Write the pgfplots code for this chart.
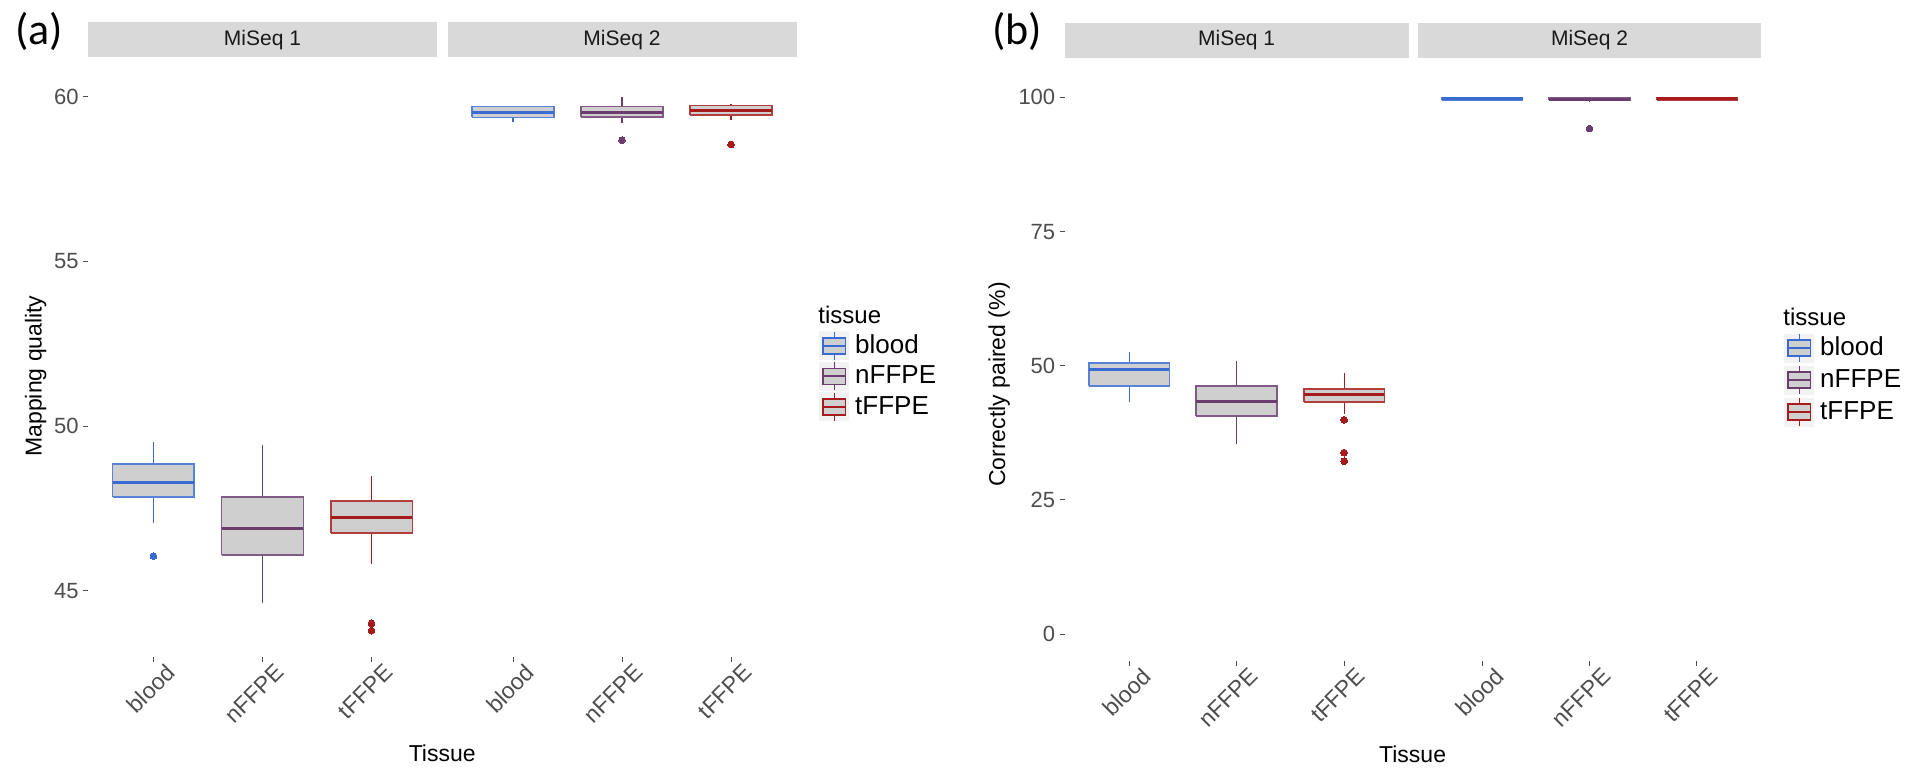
\documentclass[border=0pt]{standalone}
\usepackage{pgfplots}
\pgfplotsset{compat=1.18}
\usepackage{fontspec}
\setmainfont{Liberation Sans}
\newfontfamily\calib{Carlito}
\definecolor{bloodc}{HTML}{3A6BD2}
\definecolor{nffpec}{HTML}{6B3D6F}
\definecolor{tffpec}{HTML}{A61C1C}
\definecolor{boxfill}{HTML}{CFCFCF}
\definecolor{stripc}{HTML}{D9D9D9}
\definecolor{tickc}{HTML}{4D4D4D}
\definecolor{keybg}{HTML}{F2F2F2}

\pgfplotsset{
  facet/.style={
    scale only axis,
    axis lines*=left,
    axis line style={draw=none},
    xmin=0.4, xmax=3.6,
    xtick={1,2,3},
    xticklabels={blood,nFFPE,tFFPE},
    tick align=outside,
    major tick length=2.5pt,
    every tick/.style={tickc, line width=0.4pt},
    tick label style={font=\fontsize{11}{13}\selectfont, text=tickc},
    /pgf/number format/assume math mode=true,
    xticklabel style={rotate=45, anchor=north east, inner sep=0pt, xshift=4pt, yshift=-4pt,
      font=\fontsize{11.5}{13}\selectfont},
    yticklabel style={inner sep=2pt},
    title style={at={(0.5,1)}, anchor=south, yshift=0.3pt, fill=stripc, inner sep=0pt,
      minimum height=17.5pt, text=black!90, font=\fontsize{10.5}{12}\selectfont},
    clip=false,
  },
  keyimg/.style={legend image code/.code={
    \fill[keybg] (0pt,-7pt) rectangle (14.5pt,7pt);
    \draw[#1, line width=0.5pt] (7.25pt,-7pt) -- (7.25pt,7pt);
    \filldraw[fill=boxfill, draw=#1, line width=0.8pt] (1.6pt,-4pt) rectangle (12.9pt,4pt);
    \draw[#1, line width=0.9pt] (1.6pt,0pt) -- (12.9pt,0pt);
  }},
  leg/.style={legend cell align=left,
    legend style={draw=none, fill=none, inner sep=0pt, row sep=#1, column sep=3pt,
      font=\fontsize{13}{15}\selectfont, nodes={inner sep=0pt}, anchor=north west}},
  outl/.style={only marks, mark=*, mark size=1.7pt, forget plot,
    mark options={fill=#1, draw=#1, line width=0pt, solid}},
}

% box: {x left}{x centre}{x right}{colour}{lower whisker}{lower quartile}{median}{upper quartile}{upper whisker}
\newcommand\bxp[9]{%
  \addplot[#4, line width=0.6pt, forget plot] coordinates {(#2,#5) (#2,#6)};
  \addplot[#4, line width=0.6pt, forget plot] coordinates {(#2,#8) (#2,#9)};
  \addplot[draw=#4!85!white, fill=boxfill, line width=0.85pt, forget plot]
    coordinates {(#1,#6) (#3,#6) (#3,#8) (#1,#8) (#1,#6)};
  \addplot[#4, line width=1.5pt, forget plot] coordinates {(#1,#7) (#3,#7)};
}

\begin{document}
\begin{tikzpicture}
\useasboundingbox (0,0) rectangle (965pt,-385pt);

% ---------------- panel (a) MiSeq 1
\begin{axis}[facet, at={(44pt,-35.15pt)}, anchor=north west,
  width=174.5pt, height=293.5pt, ymin=42.98, ymax=60.8, ytick={45,50,55,60},
  title={MiSeq 1}, title style={minimum width=174.5pt}]
\bxp{0.625}{1}{1.375}{bloodc}{47.06}{47.85}{48.30}{48.85}{49.52}
\bxp{1.625}{2}{2.375}{nffpec}{44.64}{46.08}{46.90}{47.84}{49.42}
\bxp{2.625}{3}{3.375}{tffpec}{45.80}{46.76}{47.23}{47.73}{48.48}
\addplot[outl=bloodc] coordinates {(1,46.05)};
\addplot[outl=tffpec] coordinates {(3,44.01) (3,43.79)};
\end{axis}

% ---------------- panel (a) MiSeq 2
\begin{axis}[facet, leg=0.75pt, at={(223.75pt,-35.15pt)}, anchor=north west,
  width=174.5pt, height=293.5pt, ymin=42.98, ymax=60.8, ytick=\empty,
  title={MiSeq 2}, title style={minimum width=174.5pt},
  legend style={at={(1.0645,0.5559)}}]
\bxp{0.625}{1}{1.375}{bloodc}{59.22}{59.37}{59.53}{59.70}{59.73}
\bxp{1.625}{2}{2.375}{nffpec}{59.19}{59.39}{59.53}{59.70}{59.99}
\bxp{2.625}{3}{3.375}{tffpec}{59.29}{59.44}{59.59}{59.73}{59.78}
\addplot[outl=nffpec] coordinates {(2,58.68)};
\addplot[outl=tffpec] coordinates {(3,58.55)};
\addlegendimage{keyimg=bloodc}\addlegendentry{blood}
\addlegendimage{keyimg=nffpec}\addlegendentry{nFFPE}
\addlegendimage{keyimg=tffpec}\addlegendentry{tFFPE}
\end{axis}

% ---------------- panel (b) MiSeq 1
\begin{axis}[facet, at={(532.3pt,-35.3pt)}, anchor=north west,
  width=172pt, height=295.1pt, ymin=-5, ymax=105, ytick={0,25,50,75,100},
  title={MiSeq 1}, title style={minimum width=172pt}]
\bxp{0.625}{1}{1.375}{bloodc}{43.2}{46.2}{49.2}{50.5}{52.6}
\bxp{1.625}{2}{2.375}{nffpec}{35.5}{40.6}{43.4}{46.2}{50.8}
\bxp{2.625}{3}{3.375}{tffpec}{41.0}{43.2}{44.7}{45.7}{48.7}
\addplot[outl=tffpec] coordinates {(3,39.9) (3,33.8) (3,32.2)};
\end{axis}

% ---------------- panel (b) MiSeq 2
\begin{axis}[facet, leg=1.5pt, at={(709pt,-35.3pt)}, anchor=north west,
  width=171.5pt, height=295.1pt, ymin=-5, ymax=105, ytick=\empty,
  title={MiSeq 2}, title style={minimum width=171.5pt},
  legend style={at={(1.067,0.5554)}}]
\bxp{0.625}{1}{1.375}{bloodc}{99.4}{99.5}{99.75}{100.0}{100.1}
\bxp{1.625}{2}{2.375}{nffpec}{99.2}{99.45}{99.7}{99.95}{100.0}
\bxp{2.625}{3}{3.375}{tffpec}{99.3}{99.5}{99.75}{99.95}{100.0}
\addplot[outl=nffpec] coordinates {(2,94.2)};
\addlegendimage{keyimg=bloodc}\addlegendentry{blood}
\addlegendimage{keyimg=nffpec}\addlegendentry{nFFPE}
\addlegendimage{keyimg=tffpec}\addlegendentry{tFFPE}
\end{axis}

% ---------------- texts
\node[anchor=base west, inner sep=0pt, font=\calib\fontsize{22}{26}\selectfont] at (7.5pt,-22.5pt) {(a)};
\node[anchor=base west, inner sep=0pt, font=\calib\fontsize{22}{26}\selectfont] at (496pt,-22.5pt) {(b)};
\node[rotate=90, anchor=base, inner sep=0pt, font=\fontsize{11.5}{13}\selectfont] at (20.85pt,-188pt) {Mapping quality};
\node[rotate=90, anchor=base, inner sep=0pt, font=\fontsize{11.5}{13}\selectfont] at (502.5pt,-192.25pt) {Correctly paired (\%)};
\node[anchor=base, inner sep=0pt, font=\fontsize{11.5}{13}\selectfont] at (221.1pt,-380.5pt) {Tissue};
\node[anchor=base, inner sep=0pt, font=\fontsize{11.5}{13}\selectfont] at (706.3pt,-381pt) {Tissue};
\node[anchor=base west, inner sep=0pt, font=\fontsize{12}{14}\selectfont] at (409pt,-161.5pt) {tissue};
\node[anchor=base west, inner sep=0pt, font=\fontsize{12}{14}\selectfont] at (891.5pt,-162.5pt) {tissue};
\end{tikzpicture}
\end{document}
